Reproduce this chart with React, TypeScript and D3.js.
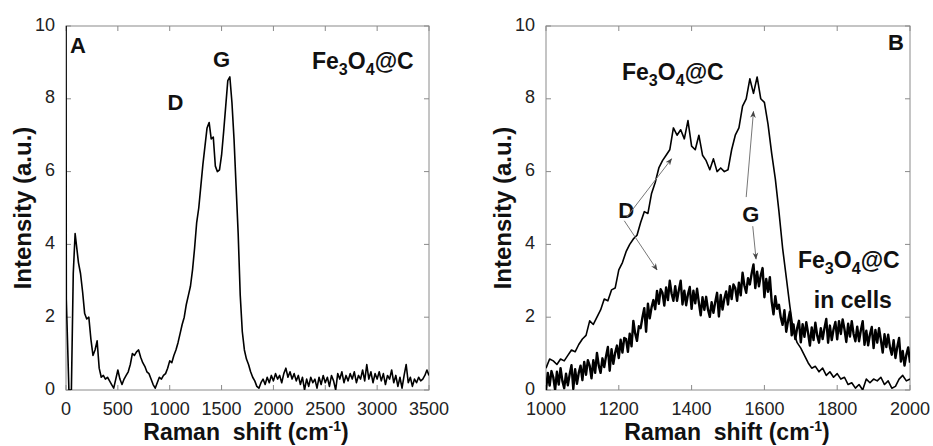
import React from "react";
import * as d3 from "d3";

// ---------- Panel A data (Fe3O4@C, full range) ----------
const shiftA_head = [0, 3, 28, 52, 70, 88];
const intensityA_head = [10.6, 2.5, 0.0, 0.0, 3.2, 4.3];
const shiftA_start = 100;
const shiftA_step = 20;
const intensityA = [
  4.0, 3.5, 3.2, 2.7, 2.1, 1.95, 2.0, 1.4, 0.95, 1.1,
  1.35, 0.6, 0.35, 0.4, 0.3, 0.35, 0.25, 0.15, 0.05, 0.3,
  0.55, 0.3, 0.15, 0.3, 0.4, 0.5, 0.7, 1.0, 0.95, 1.05,
  1.1, 0.9, 0.75, 0.65, 0.5, 0.45, 0.3, 0.15, 0.05, 0.2,
  0.35, 0.3, 0.4, 0.45, 0.6, 0.8, 0.75, 0.95, 1.1, 1.3,
  1.55, 1.8, 2.0, 2.35, 2.6, 2.85, 3.3, 3.9, 4.6, 5.0,
  5.6, 6.2, 6.7, 7.2, 7.35, 6.9, 6.95, 6.15, 6.0, 6.05,
  6.45, 7.1, 7.8, 8.5, 8.6, 7.9, 6.9, 5.6, 4.3, 2.6,
  1.6, 1.1, 0.85, 0.7, 0.5, 0.35, 0.25, 0.1, 0.05, 0.2,
  // 1900 ..
  0.3, 0.15, 0.35, 0.2, 0.4, 0.25, 0.45, 0.3, 0.4, 0.2,
  0.45, 0.6, 0.35, 0.5, 0.3, 0.45, 0.25, 0.4, 0.15, 0.35,
  0.0, 0.3, 0.1, 0.35, 0.2, 0.3, 0.05, 0.35, 0.15, 0.4,
  0.2, 0.35, 0.1, 0.4, 0.25, 0.0, 0.45, 0.3, 0.5, 0.2,
  0.4, 0.25, 0.45, 0.3, 0.5, 0.2, 0.4, 0.3, 0.55, 0.25,
  0.7, 0.3, 0.5, 0.2, 0.45, 0.3, 0.5, 0.25, 0.45, 0.15,
  0.4, 0.3, 0.55, 0.2, 0.4, 0.1, 0.35, 0.05, 0.4, 0.7,
  0.2, 0.35, 0.1, 0.3, 0.2, 0.35, 0.25, 0.3, 0.4, 0.55,
  0.4,
];

// ---------- Panel B data (1000-2000 cm-1) ----------
const shiftB_start = 1000;
const powder_step = 10;
const intensityB_powder = [
  0.6, 0.85, 0.8, 0.7, 0.85, 0.8, 0.95, 1.1, 1.05, 1.25,
  1.4, 1.5, 1.9, 1.8, 2.0, 2.2, 2.5, 2.45, 2.75, 2.8,
  3.3, 3.5, 3.8, 4.0, 4.15, 4.25, 4.6, 4.9, 4.85, 5.4,
  5.7, 6.1, 6.3, 6.45, 6.6, 7.2, 7.0, 7.15, 6.9, 7.4,
  6.7, 6.6, 7.0, 6.45, 6.3, 6.05, 6.35, 6.0, 6.1, 6.0,
  6.05, 6.6, 7.0, 7.2, 7.8, 8.0, 8.55, 8.15, 8.6, 8.0,
  7.9, 7.3, 6.5, 5.8, 4.9, 3.9, 3.1, 2.3, 1.6, 1.3,
  1.15, 0.95, 0.75, 0.6, 0.65, 0.5, 0.6, 0.4, 0.5, 0.35,
  0.45, 0.3, 0.35, 0.15, 0.2, 0.05, 0.15, 0.0, 0.3, 0.2,
  0.3, 0.25, 0.35, 0.15, 0.25, 0.05, 0.1, 0.3, 0.4, 0.25,
  0.3,
];
const cells_step = 5;
const intensityB_cells = [
  0.0, 0.47, 0.12, 0.52,   0.35, 0.0, 0.5, 0.15,    0.6, 0.25, 0.05, 0.45,
  0.13, 0.43, 0.68, 0.03,  0.57, 0.17, 0.47, 0.67,  0.27, 0.77, 0.42, 0.82,
  0.67, 0.32, 0.82, 0.47,  1.02, 0.67, 0.47, 0.87,  0.63, 0.93, 1.18, 0.53,
  1.12, 0.72, 1.02, 1.22,  0.88, 1.38, 1.03, 1.43,  1.4, 1.05, 1.55, 1.2,
  1.9, 1.55, 1.35, 1.75,   1.7, 2.0, 2.25, 1.6,     2.37, 1.97, 2.27, 2.47,
  2.22, 2.72, 2.37, 2.77,  2.67, 2.32, 2.82, 2.47,  3.0, 2.65, 2.45, 2.85,
  2.45, 2.75, 3.0, 2.35,   2.73, 2.33, 2.63, 2.83,  2.23, 2.73, 2.38, 2.78,
  2.4, 2.05, 2.55, 2.2,    2.56, 2.21, 2.01, 2.41,  2.12, 2.42, 2.67, 2.02,
  2.61, 2.21, 2.51, 2.71,  2.35, 2.85, 2.5, 2.9,    2.8, 2.45, 2.95, 2.6,
  3.22, 2.87, 2.67, 3.07,  2.9, 3.2, 3.45, 2.8,     3.25, 2.85, 3.15, 3.35,
  2.55, 3.05, 2.7, 3.1,    2.43, 2.08, 2.58, 2.23,  2.34, 1.99, 1.79, 2.19,
  1.6, 1.9, 2.15, 1.5,     1.8, 1.4, 1.7, 1.9,      1.31, 1.81, 1.46, 1.86,
  1.57, 1.22, 1.72, 1.37,  1.85, 1.5, 1.3, 1.7,     1.4, 1.7, 1.95, 1.3,
  1.77, 1.37, 1.67, 1.87,  1.39, 1.89, 1.54, 1.94,  1.67, 1.32, 1.82, 1.47,
  1.89, 1.54, 1.34, 1.74,  1.34, 1.64, 1.89, 1.24,  1.63, 1.23, 1.53, 1.73,
  1.15, 1.65, 1.3, 1.7,    1.38, 1.03, 1.53, 1.18,  1.52, 1.17, 0.97, 1.37,
  0.88, 1.18, 1.43, 0.78,  1.07, 0.67, 0.97, 1.17,
  0.75,
];

const yTicks = [0, 2, 4, 6, 8, 10];
const xTicksA = [0, 500, 1000, 1500, 2000, 2500, 3000, 3500];
const xTicksB = [1000, 1200, 1400, 1600, 1800, 2000];

const FONT = "'Liberation Sans', Arial, sans-serif";

type Pt = [number, number];

function buildA(): Pt[] {
  const pts: Pt[] = shiftA_head.map((x, i) => [x, intensityA_head[i]] as Pt);
  intensityA.forEach((v, i) => pts.push([shiftA_start + i * shiftA_step, v]));
  return pts;
}
function buildB(vals: number[], step: number): Pt[] {
  return vals.map((v, i) => [shiftB_start + i * step, v] as Pt);
}

const TOP = 26;
const BOTTOM = 390;

function Frame({ x, y, ticksX, id }: any) {
  const [x0, x1] = x.range();
  const tl = 5;
  const gray = "#8a8a8a";
  return (
    <g>
      <rect x={x0} y={TOP} width={x1 - x0} height={BOTTOM - TOP} fill="none" stroke={gray} strokeWidth={1} />
      {ticksX.map((t: number) => (
        <g key={"xt" + id + t}>
          <line x1={x(t)} x2={x(t)} y1={BOTTOM} y2={BOTTOM - tl} stroke={gray} />
          <line x1={x(t)} x2={x(t)} y1={TOP} y2={TOP + tl} stroke={gray} />
          <text x={x(t)} y={415} textAnchor="middle" fontSize={18} fontFamily={FONT} fill="#222">
            {t}
          </text>
        </g>
      ))}
      {yTicks.map((t) => (
        <g key={"yt" + id + t}>
          <line x1={x0} x2={x0 + tl} y1={y(t)} y2={y(t)} stroke={gray} />
          <line x1={x1} x2={x1 - tl} y1={y(t)} y2={y(t)} stroke={gray} />
          <text x={x0 - 11} y={y(t) + 4.5} textAnchor="end" fontSize={18} fontFamily={FONT} fill="#222">
            {t}
          </text>
        </g>
      ))}
    </g>
  );
}

function FeLabel({ x, y, size = 23 }: { x: number; y: number; size?: number }) {
  const sub = size * 0.7;
  return (
    <text x={x} y={y} fontSize={size} fontWeight="bold" fontFamily={FONT} fill="#111">
      Fe
      <tspan fontSize={sub} dy={6}>3</tspan>
      <tspan dy={-6}>O</tspan>
      <tspan fontSize={sub} dy={6}>4</tspan>
      <tspan dy={-6}>@C</tspan>
    </text>
  );
}

function AxisTitles({ cx, yTitleX }: { cx: number; yTitleX: number }) {
  return (
    <g fontFamily={FONT} fontWeight="bold" fill="#111">
      <text x={cx} y={440} textAnchor="middle" fontSize={23}>
        {"Raman\u00a0\u00a0shift (cm"}
        <tspan fontSize={14} dy={-9}>-1</tspan>
        <tspan dy={9}>)</tspan>
      </text>
      <text
        transform={`translate(${yTitleX},${(TOP + BOTTOM) / 2}) rotate(-90)`}
        textAnchor="middle"
        fontSize={24}
      >
        Intensity (a.u.)
      </text>
    </g>
  );
}

export default function App() {
  const yA = d3.scaleLinear().domain([0, 10]).range([BOTTOM, TOP]);
  const xA = d3.scaleLinear().domain([0, 3500]).range([66, 429]);
  const xB = d3.scaleLinear().domain([1000, 2000]).range([546, 910]);
  const yB = yA;

  const lineA = d3.line<Pt>().x((d) => xA(d[0])).y((d) => yA(d[1]));
  const lineB = d3.line<Pt>().x((d) => xB(d[0])).y((d) => yB(d[1]));

  const dataA = buildA();
  const dataBp = buildB(intensityB_powder, powder_step);
  const dataBc = buildB(intensityB_cells, cells_step);

  const arrowGray = "#777";

  return (
    <div style={{ position: "fixed", left: 0, top: 0 }}>
      <svg width={933} height={446} viewBox="0 0 933 446" style={{ display: "block", background: "#fff" }}>
        <defs>
          <clipPath id="clipA">
            <rect x={66} y={TOP} width={363} height={BOTTOM - TOP} />
          </clipPath>
          <clipPath id="clipB">
            <rect x={546} y={TOP} width={364} height={BOTTOM - TOP} />
          </clipPath>
          <marker id="arr" viewBox="0 0 10 10" refX={9} refY={5} markerWidth={7} markerHeight={7} orient="auto-start-reverse">
            <path d="M0,1 L10,5 L0,9 L3,5 Z" fill="#444" />
          </marker>
        </defs>

        {/* Panel A */}
        <Frame x={xA} y={yA} ticksX={xTicksA} id="A" />
        <path d={lineA(dataA) || ""} fill="none" stroke="#000" strokeWidth={1.6} clipPath="url(#clipA)" strokeLinejoin="round" />
        <AxisTitles cx={246} yTitleX={31} />
        <g fontFamily={FONT} fontWeight="bold" fill="#111" fontSize={22}>
          <text x={70} y={53}>A</text>
          <text x={xA(1500)} y={67} textAnchor="middle">G</text>
          <text x={xA(1055)} y={110} textAnchor="middle">D</text>
        </g>
        <FeLabel x={312} y={69} />

        {/* Panel B */}
        <Frame x={xB} y={yB} ticksX={xTicksB} id="B" />
        <path d={lineB(dataBc) || ""} fill="none" stroke="#000" strokeWidth={2.4} clipPath="url(#clipB)" strokeLinejoin="round" />
        <path d={lineB(dataBp) || ""} fill="none" stroke="#000" strokeWidth={1.6} clipPath="url(#clipB)" strokeLinejoin="round" />
        <AxisTitles cx={727} yTitleX={511} />
        <g fontFamily={FONT} fontWeight="bold" fill="#111" fontSize={22}>
          <text x={888} y={50}>B</text>
          <text x={xB(1220)} y={218} textAnchor="middle">D</text>
          <text x={xB(1563)} y={222} textAnchor="middle">G</text>
          <text x={xB(1843)} y={308} textAnchor="middle" fontSize={23}>in cells</text>
        </g>
        <FeLabel x={622} y={80} />
        <FeLabel x={798} y={268} />

        {/* annotation arrows */}
        <g stroke={arrowGray} strokeWidth={1} fill="none">
          <line x1={xB(1222)} y1={yB(4.75)} x2={xB(1345)} y2={yB(6.35)} markerEnd="url(#arr)" />
          <line x1={xB(1215)} y1={yB(4.65)} x2={xB(1305)} y2={yB(3.3)} markerEnd="url(#arr)" />
          <line x1={xB(1550)} y1={yB(5.3)} x2={xB(1570)} y2={yB(7.65)} markerEnd="url(#arr)" />
          <line x1={xB(1568)} y1={yB(4.5)} x2={xB(1577)} y2={yB(3.6)} markerEnd="url(#arr)" />
        </g>
      </svg>
    </div>
  );
}
